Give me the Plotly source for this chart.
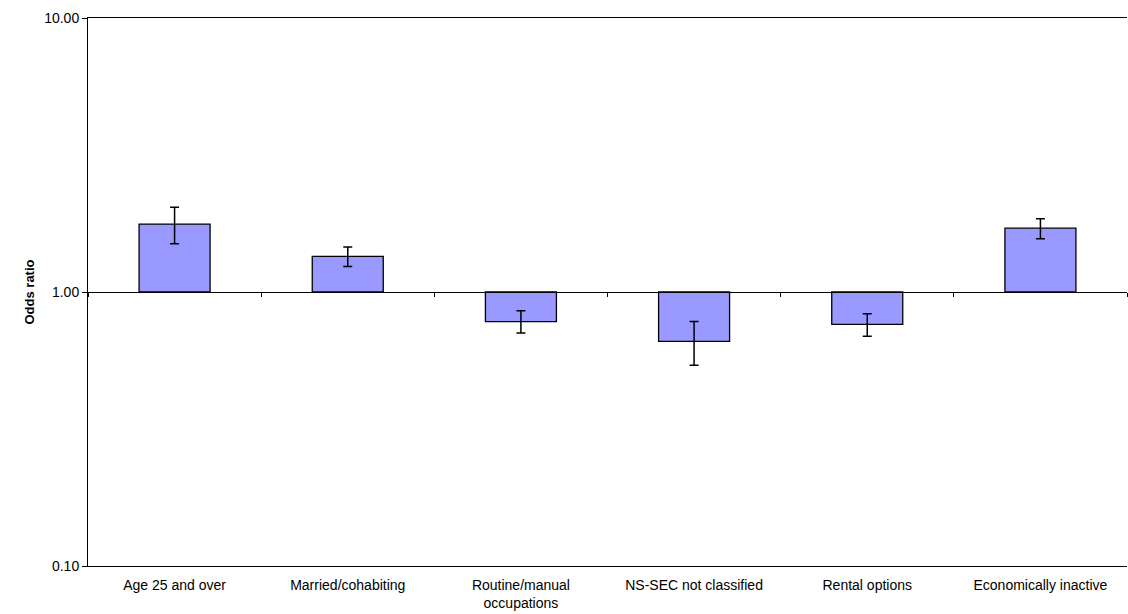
import plotly.graph_objects as go

categories = ["Age 25 and over", "Married/cohabiting", "Routine/manual<br>occupations",
              "NS-SEC not classified", "Rental options", "Economically inactive"]
odds = [1.77, 1.35, 0.78, 0.66, 0.762, 1.71]
ci_upper = [2.04, 1.46, 0.855, 0.78, 0.833, 1.85]
ci_lower = [1.50, 1.24, 0.708, 0.54, 0.689, 1.565]
baseline = 1.0

fig = go.Figure()
fig.add_trace(go.Bar(
    x=categories,
    y=[v - baseline for v in odds],
    base=[baseline] * len(odds),
    marker=dict(color="#9999FF", line=dict(color="black", width=1.3)),
    width=0.41,
    showlegend=False,
    hoverinfo="skip",
))
fig.add_trace(go.Scatter(
    x=categories,
    y=odds,
    mode="markers",
    marker=dict(size=1, color="rgba(0,0,0,0)"),
    error_y=dict(type="data", symmetric=False,
                 array=[u - v for u, v in zip(ci_upper, odds)],
                 arrayminus=[v - l for v, l in zip(odds, ci_lower)],
                 color="black", thickness=1.5, width=4.5),
    showlegend=False,
    hoverinfo="skip",
))
# invisible trace for the category axis drawn through 1.00
fig.add_trace(go.Scatter(x=categories, y=odds, xaxis="x2", mode="markers",
                         marker=dict(size=1, color="rgba(0,0,0,0)"),
                         showlegend=False, hoverinfo="skip"))

fig.update_layout(
    width=1128, height=614,
    margin=dict(l=88, r=1, t=18, b=48),
    plot_bgcolor="white", paper_bgcolor="white",
    font=dict(family="Liberation Sans, Arial, sans-serif", size=14, color="black"),
    bargap=0.59,
    xaxis=dict(type="category", showline=True, mirror=True, linecolor="black", linewidth=1,
               showgrid=False, ticks="", automargin=False,
               tickfont=dict(size=14), ticklabelstandoff=6),
    xaxis2=dict(type="category", overlaying="x", matches="x", anchor="free", position=0.5,
                showline=True, linecolor="black", linewidth=1,
                ticks="outside", tickson="boundaries", ticklen=4, tickcolor="black",
                showticklabels=False, showgrid=False),
    yaxis=dict(type="log", range=[-1, 1], tickvals=[0.1, 1, 10],
               ticktext=["0.10", "1.00", "10.00"],
               showgrid=True, gridcolor="black", gridwidth=1,
               showline=True, linecolor="black", linewidth=1,
               ticks="outside", ticklen=5, tickcolor="black",
               zeroline=False, automargin=False, tickfont=dict(size=14),
               title=dict(text="<b>Odds ratio</b>", font=dict(size=13), standoff=6)),
)

fig.write_html(
    "out.html",
    config={"responsive": False, "displayModeBar": False},
    post_script="document.body.style.margin='0';"
                "Plotly.relayout('{plot_id}', {width: 1128, height: 614});",
)
